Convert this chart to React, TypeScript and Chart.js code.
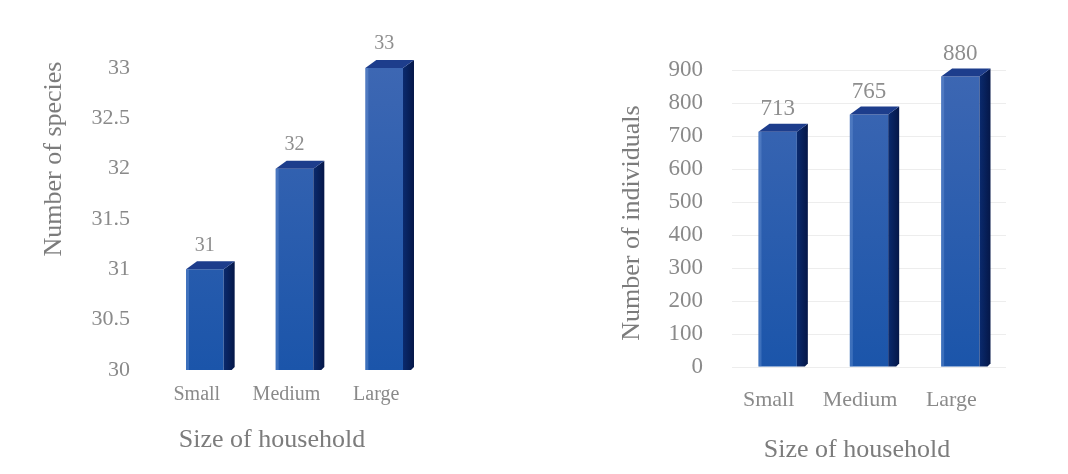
import { useEffect, useRef } from "react";
import { Chart, registerables } from "chart.js";

Chart.register(...registerables);

// ---------- data ----------
const categories = ["Small", "Medium", "Large"];
const speciesValues = [31, 32, 33];
const individualValues = [713, 765, 880];
const speciesAxis = { min: 30, max: 33, step: 0.5 };
const individualAxis = { min: 0, max: 900, step: 100 };
const xTitle = "Size of household";
const speciesTitle = "Number of species";
const individualTitle = "Number of individuals";

const FONT = '"Liberation Serif", "Times New Roman", serif';
const TICK_COLOR = "#8a8a8a";
const TITLE_COLOR = "#7c7c7c";

type PanelCfg = {
  values: number[];
  axis: { min: number; max: number; step: number };
  yTitle: string;
  width: number;
  yWidth: number;
  padTop: number;
  padRight: number;
  xHeight: number;
  yTickPad: number;
  xTickPad: number;
  xTickFont: number;
  yTickFont: number;
  labelOffset: number;
  labelFont: number;
  labelGap: number;
  grid: boolean;
  yTitlePos: [number, number];
  xTitlePos: [number, number];
};

function bar3dPlugin(cfg: PanelCfg) {
  const depth = 11;
  const rise = 8;
  return {
    id: "bar3d",
    afterDatasetsDraw(chart: any) {
      const ctx = chart.ctx as CanvasRenderingContext2D;
      const meta = chart.getDatasetMeta(0);
      const data = chart.data.datasets[0].data as number[];
      const bottom = chart.chartArea.bottom;
      meta.data.forEach((bar: any, i: number) => {
        const p = bar.getProps(["x", "y", "base", "width"], true);
        const { x, y, width } = p;
        const base = Math.min(p.base, bottom);
        const l = x - width / 2;
        const r = x + width / 2;
        ctx.save();
        // side face
        const sg = ctx.createLinearGradient(r, 0, r + depth, 0);
        sg.addColorStop(0, "#0a2a6e");
        sg.addColorStop(1, "#051748");
        ctx.fillStyle = sg;
        ctx.beginPath();
        ctx.moveTo(r, y);
        ctx.lineTo(r + depth, y - rise);
        ctx.lineTo(r + depth, base - 3);
        ctx.lineTo(r + depth - 3, base);
        ctx.lineTo(r, base);
        ctx.closePath();
        ctx.fill();
        // top face
        ctx.fillStyle = "#1d3d8c";
        ctx.beginPath();
        ctx.moveTo(l, y);
        ctx.lineTo(l + depth, y - rise);
        ctx.lineTo(r + depth, y - rise);
        ctx.lineTo(r, y);
        ctx.closePath();
        ctx.fill();
        // subtle highlight on front left edge
        ctx.fillStyle = "rgba(120,160,220,0.35)";
        ctx.fillRect(l, y, 3, base - y);
        // value label
        ctx.fillStyle = "#8e8e8e";
        ctx.font = `${cfg.labelFont}px ${FONT}`;
        ctx.textAlign = "center";
        ctx.textBaseline = "middle";
        ctx.fillText(String(data[i]), x, y - cfg.labelGap);
        ctx.restore();
      });
    },
    afterDraw(chart: any) {
      const ctx = chart.ctx as CanvasRenderingContext2D;
      ctx.save();
      ctx.fillStyle = TITLE_COLOR;
      ctx.font = `26px ${FONT}`;
      ctx.textAlign = "center";
      ctx.textBaseline = "middle";
      ctx.fillText(xTitle, cfg.xTitlePos[0], cfg.xTitlePos[1]);
      ctx.translate(cfg.yTitlePos[0], cfg.yTitlePos[1]);
      ctx.rotate(-Math.PI / 2);
      ctx.fillText(cfg.yTitle, 0, 0);
      ctx.restore();
    },
  };
}

function Panel({ cfg }: { cfg: PanelCfg }) {
  const ref = useRef<HTMLCanvasElement>(null);
  useEffect(() => {
    if (!ref.current) return;
    const chart = new Chart(ref.current, {
      type: "bar",
      data: {
        labels: categories,
        datasets: [
          {
            data: cfg.values,
            base: cfg.axis.min,
            backgroundColor: (c: any) => {
              const ca = c.chart.chartArea;
              if (!ca) return "#2a5cb0";
              const g = c.chart.ctx.createLinearGradient(0, ca.top, 0, ca.bottom);
              g.addColorStop(0, "#3d67b3");
              g.addColorStop(1, "#1b55aa");
              return g;
            },
            borderWidth: 0,
            barPercentage: 0.42,
            categoryPercentage: 1,
          } as any,
        ],
      },
      options: {
        responsive: false,
        animation: false,
        layout: { padding: { left: 0, top: cfg.padTop, right: cfg.padRight, bottom: 0 } },
        plugins: { legend: { display: false }, tooltip: { enabled: false } },
        scales: {
          x: {
            grid: { display: false, drawTicks: false },
            border: { display: false },
            ticks: {
              color: TICK_COLOR,
              font: { family: FONT, size: cfg.xTickFont },
              padding: cfg.xTickPad,
              labelOffset: cfg.labelOffset,
              maxRotation: 0,
            },
            afterFit: (s: any) => {
              s.height = cfg.xHeight;
            },
          },
          y: {
            min: cfg.axis.min,
            max: cfg.axis.max,
            grid: {
              display: cfg.grid,
              drawTicks: false,
              color: "rgba(0,0,0,0.07)",
            },
            border: { display: false },
            ticks: {
              stepSize: cfg.axis.step,
              color: TICK_COLOR,
              font: { family: FONT, size: cfg.yTickFont },
              padding: cfg.yTickPad,
              callback: (v: any) => String(Number(v)),
            },
            afterFit: (s: any) => {
              s.width = cfg.yWidth;
            },
          },
        },
      },
      plugins: [bar3dPlugin(cfg)],
    });
    return () => chart.destroy();
  }, [cfg]);
  return <canvas ref={ref} width={cfg.width} height={458} style={{ display: "block" }} />;
}

const leftCfg: PanelCfg = {
  values: speciesValues,
  axis: speciesAxis,
  yTitle: speciesTitle,
  width: 530,
  yWidth: 152,
  padTop: 60,
  padRight: 109,
  xHeight: 96,
  yTickPad: 30,
  xTickPad: 13,
  xTickFont: 20,
  yTickFont: 22,
  labelOffset: -8,
  labelFont: 20,
  labelGap: 24,
  grid: false,
  yTitlePos: [46, 151],
  xTitlePos: [264, 432],
};

const rightCfg: PanelCfg = {
  values: individualValues,
  axis: individualAxis,
  yTitle: individualTitle,
  width: 522,
  yWidth: 194,
  padTop: 62,
  padRight: 54,
  xHeight: 99,
  yTickPad: 29,
  xTickPad: 20,
  xTickFont: 22,
  yTickFont: 23,
  labelOffset: -9,
  labelFont: 23,
  labelGap: 23,
  grid: true,
  yTitlePos: [94, 215],
  xTitlePos: [319, 442],
};

export default function App() {
  return (
    <div style={{ display: "flex", width: 1052, height: 458, background: "#fff" }}>
      <Panel cfg={leftCfg} />
      <Panel cfg={rightCfg} />
    </div>
  );
}
